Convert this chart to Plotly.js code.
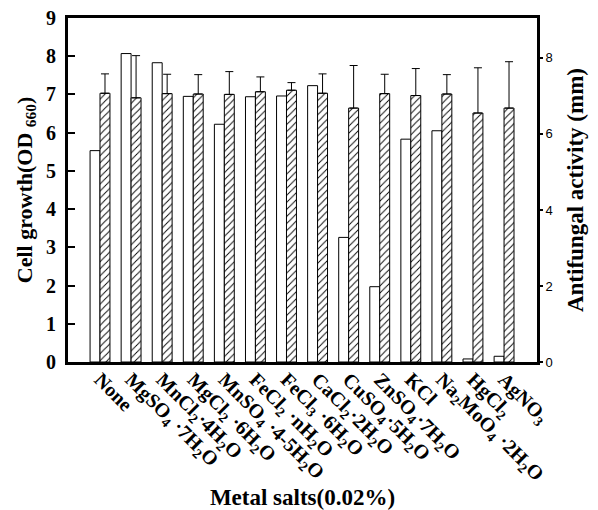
<!DOCTYPE html>
<html>
<head>
<meta charset="utf-8">
<script src="https://cdn.plot.ly/plotly-3.0.1.min.js"></script>
<style>html,body{margin:0;padding:0;background:#fff;}#chart{width:598px;height:510px;}</style>
</head>
<body>
<div id="chart"></div>
<script>
const categories = [
  "None",
  "MgSO<sub>4</sub> ·7H<sub>2</sub>O",
  "MnCl<sub>2</sub>·4H<sub>2</sub>O",
  "MgCl<sub>2</sub> ·6H<sub>2</sub>O",
  "MnSO<sub>4</sub> ·4-5H<sub>2</sub>O",
  "FeCl<sub>2</sub> ·nH<sub>2</sub>O",
  "FeCl<sub>3</sub> ·6H<sub>2</sub>O",
  "CaCl<sub>2</sub>·2H<sub>2</sub>O",
  "CuSO<sub>4</sub>·5H<sub>2</sub>O",
  "ZnSO<sub>4</sub>·7H<sub>2</sub>O",
  "KCl",
  "Na<sub>2</sub>MoO<sub>4</sub> ·2H<sub>2</sub>O",
  "HgCl<sub>2</sub>",
  "AgNO<sub>3</sub>"
];
const cellGrowth = [5.53, 8.07, 7.83, 6.95, 6.22, 6.94, 6.96, 7.23, 3.26, 1.97, 5.83, 6.05, 0.08, 0.15];
const antifungal = [7.07, 6.95, 7.06, 7.05, 7.04, 7.11, 7.15, 7.07, 6.68, 7.06, 7.01, 7.05, 6.55, 6.68];
const antifungalErrTop = [7.58, 8.06, 7.57, 7.56, 7.64, 7.50, 7.35, 7.58, 7.80, 7.57, 7.72, 7.56, 7.74, 7.90];
const leftTicks = [0,1,2,3,4,5,6,7,8,9];
const rightTicks = [0,2,4,6,8];

const errPlus = antifungal.map((v,i) => antifungalErrTop[i] - v);
const errMinus = antifungal.map(() => 0);

const serif = "Liberation Serif, Times New Roman, serif";
const sans = "Liberation Sans, Arial, sans-serif";

const traces = [
  {
    type: 'bar', x: categories, y: cellGrowth, yaxis: 'y',
    width: 0.32, offset: -0.32,
    marker: {color: '#ffffff', line: {color: '#000000', width: 1}},
    showlegend: false, hoverinfo: 'skip'
  },
  {
    type: 'bar', x: categories, y: antifungal, yaxis: 'y2',
    width: 0.32, offset: 0,
    marker: {color: '#ffffff', line: {color: '#000000', width: 1},
      pattern: {shape: '/', fgcolor: '#000000', bgcolor: '#ffffff', size: 5, solidity: 0.18}},
    error_y: {type: 'data', symmetric: false, array: errPlus, arrayminus: errMinus,
      color: '#000000', thickness: 1, width: 4},
    showlegend: false, hoverinfo: 'skip'
  }
];

const layout = {
  width: 598, height: 510,
  margin: {l: 68, r: 61, t: 18, b: 148},
  paper_bgcolor: '#ffffff', plot_bgcolor: '#ffffff',
  showlegend: false,
  font: {family: serif, color: '#000000'},
  xaxis: {
    type: 'category', range: [-1.03, 14.06],
    showline: true, linewidth: 3, linecolor: '#000000', mirror: true,
    showgrid: false, zeroline: false, ticks: '',
    tickangle: 45, ticklabelstandoff: -5,
    tickfont: {family: serif, size: 20, color: '#000000', weight: 'bold'},
    title: {text: '<b>Metal salts(0.02%)</b>', font: {family: serif, size: 23, color: '#000000'}, standoff: 2}
  },
  yaxis: {
    range: [0, 9], tickvals: leftTicks, ticktext: leftTicks.map(String),
    showline: true, linewidth: 3, linecolor: '#000000',
    showgrid: false, zeroline: false,
    ticks: 'inside', ticklen: 7, tickwidth: 2, tickcolor: '#000000',
    ticklabelstandoff: 5,
    tickfont: {family: serif, size: 20, color: '#000000', weight: 'bold'},
    title: {text: '<b>Cell growth(OD <sub>660</sub>)</b>', font: {family: serif, size: 22, color: '#000000'}, standoff: 8}
  },
  yaxis2: {
    overlaying: 'y', side: 'right', range: [0, 9.05],
    tickvals: rightTicks, ticktext: rightTicks.map(String),
    showline: true, linewidth: 3, linecolor: '#000000',
    showgrid: false, zeroline: false,
    ticks: 'outside', ticklen: 3, tickwidth: 2, tickcolor: '#000000',
    tickfont: {family: sans, size: 13, color: '#000000'},
    title: {text: '<b>Antifungal activity (mm)</b>', font: {family: serif, size: 23, color: '#000000'}, standoff: 16}
  },
  bargap: 0.36
};

Plotly.newPlot('chart', traces, layout, {displayModeBar: false, staticPlot: true});
</script>
</body>
</html>
